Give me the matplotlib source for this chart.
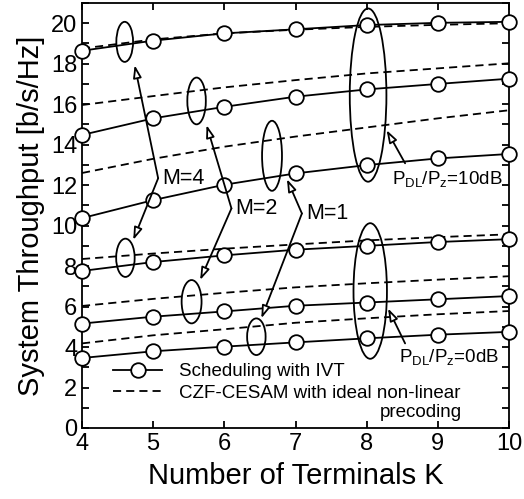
import matplotlib
matplotlib.use("Agg")
import matplotlib.pyplot as plt
from matplotlib.patches import Ellipse
from matplotlib.ticker import MultipleLocator

plt.rcParams['font.family'] = ['Liberation Sans', 'DejaVu Sans']
plt.rcParams['mathtext.fontset'] = 'custom'
plt.rcParams['mathtext.rm'] = 'Liberation Sans'
plt.rcParams['mathtext.it'] = 'Liberation Sans:italic'

# number of terminals
K = [4, 5, 6, 7, 8, 9, 10]

# Scheduling with IVT (solid, circles)
ivt_m4_10 = [18.64, 19.14, 19.50, 19.70, 19.91, 20.02, 20.07]
ivt_m2_10 = [14.48, 15.30, 15.87, 16.37, 16.73, 17.00, 17.26]
ivt_m1_10 = [10.37, 11.26, 12.02, 12.58, 12.99, 13.32, 13.54]
ivt_m4_0 = [7.76, 8.20, 8.53, 8.81, 9.00, 9.19, 9.33]
ivt_m2_0 = [5.16, 5.50, 5.76, 6.04, 6.20, 6.36, 6.52]
ivt_m1_0 = [3.46, 3.79, 4.02, 4.23, 4.43, 4.61, 4.75]

# CZF-CESAM with ideal non-linear precoding (dashed)
czf_m4_10 = [18.75, 19.20, 19.50, 19.68, 19.82, 19.92, 20.00]
czf_m2_10 = [15.96, 16.40, 16.83, 17.19, 17.52, 17.77, 18.02]
czf_m1_10 = [12.60, 13.30, 13.90, 14.40, 14.85, 15.30, 15.70]
czf_m4_0 = [8.35, 8.62, 8.86, 9.07, 9.27, 9.43, 9.57]
czf_m2_0 = [6.03, 6.38, 6.68, 6.95, 7.15, 7.33, 7.50]
czf_m1_0 = [4.18, 4.58, 4.88, 5.20, 5.42, 5.62, 5.78]

ivt_series = [ivt_m4_10, ivt_m2_10, ivt_m1_10, ivt_m4_0, ivt_m2_0, ivt_m1_0]
czf_series = [czf_m4_10, czf_m2_10, czf_m1_10, czf_m4_0, czf_m2_0, czf_m1_0]

LW = 1.3

fig = plt.figure(figsize=(5.24, 4.99), dpi=100)
ax = fig.add_axes([82/524, 1-428/499, 427/524, 425/499])

for i, ys in enumerate(ivt_series):
    ax.plot(K, ys, color='black', lw=LW, marker='o', ms=10.5, mfc='white',
            mec='black', mew=LW, label='Scheduling with IVT' if i == 0 else None,
            zorder=3, clip_on=False)
for i, ys in enumerate(czf_series):
    ax.plot(K, ys, color='black', lw=LW, dashes=(4.5, 2.8),
            label='CZF-CESAM with ideal non-linear' if i == 0 else None, zorder=2)

# annotation ellipses: (x, y, width, height)
ellipses = [
    (4.60, 19.08, 0.235, 1.98),
    (5.61, 16.16, 0.26, 2.31),
    (6.67, 13.45, 0.28, 3.46),
    (8.02, 16.45, 0.515, 8.56),
    (4.61, 8.41, 0.26, 1.89),
    (5.54, 6.24, 0.28, 2.14),
    (6.45, 4.51, 0.26, 1.81),
    (8.05, 6.77, 0.47, 6.70),
]
for (ex, ey, ew, eh) in ellipses:
    ax.add_patch(Ellipse((ex, ey), ew, eh, fill=False, ec='black', lw=LW, zorder=4))

arrow_kw = dict(arrowstyle='-|>,head_length=0.75,head_width=0.25', fc='white',
                ec='black', lw=LW, shrinkA=0, shrinkB=0)

# M labels with two arrows from a common vertex
m_labels = [
    ('M=4', (5.07, 12.34), (4.74, 17.93), (4.72, 9.29)),
    ('M=2', (6.10, 10.85), (5.75, 14.97), (5.66, 7.31)),
    ('M=1', (7.09, 10.60), (6.88, 12.30), (6.52, 5.42)),
]
for txt, vtx, up, down in m_labels:
    for tgt in (up, down):
        ax.annotate('', xy=tgt, xytext=vtx, arrowprops=arrow_kw, zorder=5)
    ax.text(vtx[0] + 0.06, vtx[1], txt, fontsize=15.5, ha='left', va='center')

ax.annotate('', xy=(8.28, 14.72), xytext=(8.54, 13.08), arrowprops=arrow_kw)
ax.text(9.14, 12.3, r'P$_{\mathrm{DL}}$/P$_{\mathrm{z}}$=10dB', fontsize=13.5,
        ha='center', va='center')
ax.annotate('', xy=(8.30, 5.91), xytext=(8.54, 4.18), arrowprops=arrow_kw)
ax.text(9.16, 3.5, r'P$_{\mathrm{DL}}$/P$_{\mathrm{z}}$=0dB', fontsize=13.5,
        ha='center', va='center')

ax.set_xlim(4, 10)
ax.set_ylim(0, 21)
ax.xaxis.set_major_locator(MultipleLocator(1))
ax.yaxis.set_major_locator(MultipleLocator(2))
ax.yaxis.set_minor_locator(MultipleLocator(1))
ax.tick_params(which='both', direction='in', top=True, right=True,
               length=5, width=LW, labelsize=17)
for sp in ax.spines.values():
    sp.set_linewidth(LW)

ax.set_xlabel('Number of Terminals K', fontsize=21, labelpad=5)
ax.set_ylabel('System Throughput [b/s/Hz]', fontsize=21, labelpad=4)

leg = ax.legend(loc='upper left', bbox_to_anchor=(0.073, 0.153), frameon=False,
                fontsize=13.5, handlelength=2.6, handletextpad=0.9,
                labelspacing=0.25, borderpad=0, borderaxespad=0, numpoints=1)
ax.text(9.34, 0.79, 'precoding', fontsize=13.5, ha='right', va='center')

fig.savefig('out.png', dpi=100)
